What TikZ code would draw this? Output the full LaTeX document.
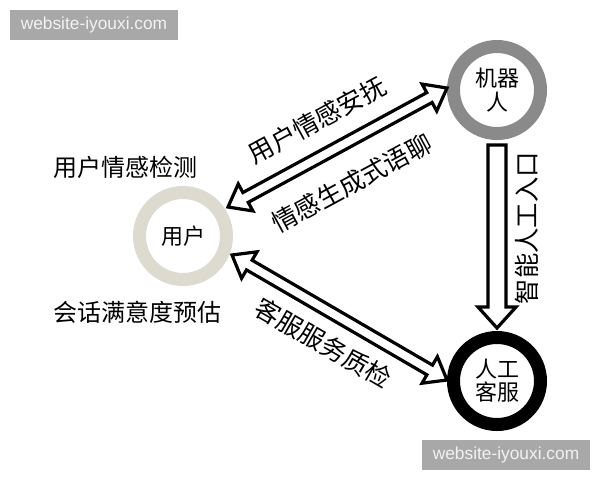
\documentclass[tikz,border=0pt]{standalone}
\usepackage{fontspec}
\setmainfont{Noto Sans CJK SC}
\newfontfamily\wmfont{Liberation Sans}
\usetikzlibrary{calc}
\definecolor{userring}{HTML}{DDDBD0}
\definecolor{robotring}{HTML}{8A8A8A}
\definecolor{wmgray}{HTML}{A8A8A8}
\definecolor{wmtext}{HTML}{F2F2F2}
\newcommand\hlen{15pt}
\newcommand\swid{4.2pt}
\newcommand\hwid{11.5pt}
\newcommand\hollowdouble[2]{%
  \draw[arrowline] ($(#1)!\hlen!(#2)!\swid!90:(#2)$) -- ($(#1)!\hlen!(#2)!\hwid!90:(#2)$) -- (#1)
    -- ($(#1)!\hlen!(#2)!\hwid!-90:(#2)$) -- ($(#1)!\hlen!(#2)!\swid!-90:(#2)$)
    -- ($(#2)!\hlen!(#1)!\swid!90:(#1)$) -- ($(#2)!\hlen!(#1)!\hwid!90:(#1)$) -- (#2)
    -- ($(#2)!\hlen!(#1)!\hwid!-90:(#1)$) -- ($(#2)!\hlen!(#1)!\swid!-90:(#1)$) -- cycle;}
\tikzset{
  ring/.style={circle, draw, line width=9.75pt, minimum size=65.25pt, inner sep=0pt, align=center, font=\fontsize{16.5}{17.5}\selectfont},
  lbl/.style={font=\fontsize{18}{20}\selectfont, inner sep=0pt},
  albl/.style={font=\fontsize{19}{21}\selectfont, inner sep=0pt},
  arrowline/.style={draw=black, line width=2.4pt, fill=white, line join=miter},
  wm/.style={fill=wmgray, text=wmtext, font=\wmfont\fontsize{13}{15}\selectfont, minimum width=126pt, minimum height=22.5pt, inner sep=0pt}
}
\begin{document}
\begin{tikzpicture}[x=0.75pt,y=-0.75pt]
\useasboundingbox (0,0) rectangle (600,480);
\fill[white] (0,0) rectangle (600,480);
% circles
\node[ring, draw=userring] (user) at (183,236) {用户};
\node[ring, draw=robotring] (robot) at (497,90) {机器\\人};
\node[ring, draw=black] (human) at (497,381) {人工\\客服};
% arrow end points
\coordinate (ua) at (228,207);
\coordinate (rb) at (447,88);
\coordinate (uc) at (232,255);
\coordinate (hd) at (447,380);
\coordinate (vs) at (497,145);
\coordinate (vt) at (497,328);
% double arrows
\hollowdouble{ua}{rb}
\hollowdouble{uc}{hd}
% vertical arrow
\draw[arrowline] ($(vs)+(-9,0)$) -- ($(vs)+(9,0)$) -- ($(vt)+(9,-21)$) -- ($(vt)+(19,-21)$) -- (vt)
  -- ($(vt)+(-19,-21)$) -- ($(vt)+(-9,-21)$) -- cycle;
% labels
\node[albl, rotate=28.5] (l1) at (317,120) {用户情感安抚};
\node[albl, rotate=28.5] (l2) at (352,183) {情感生成式语聊};
\node[albl, rotate=-30] (l3) at (323,343) {客服服务质检};
\node[albl, rotate=90] (l4) at (527,228) {智能人工入口};
\node[lbl] (t1) at (125,167) {用户情感检测};
\node[lbl] (t2) at (137,312) {会话满意度预估};
% watermarks
\node[wm] (w1) at (94,25) {website-iyouxi.com};
\node[wm] (w2) at (506,455) {website-iyouxi.com};
\end{tikzpicture}
\end{document}
